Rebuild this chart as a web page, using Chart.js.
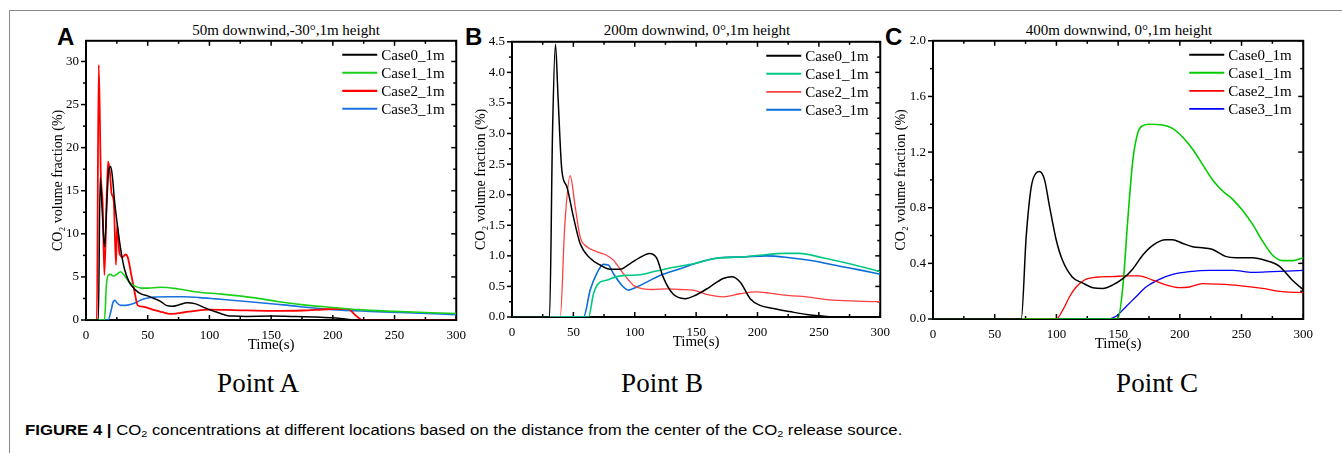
<!DOCTYPE html>
<html>
<head>
<meta charset="utf-8">
<script src="https://cdn.jsdelivr.net/npm/chart.js@4.4.1/dist/chart.umd.min.js"></script>
<style>
  html, body { margin: 0; padding: 0; background: #fff; }
  body { width: 1342px; height: 453px; position: relative; overflow: hidden;
         font-family: "Liberation Serif", "Times New Roman", serif; color: #000; }
  .frame { position: absolute; left: 9px; top: 10px; width: 1340px; height: 450px;
           border-left: 1.5px solid #8a8a8a; border-top: 1.5px solid #8a8a8a; }
  canvas { position: absolute; }
  .letter { position: absolute; font: bold 24px "Liberation Sans", Arial, sans-serif; line-height: 24px; }
  .ptitle { position: absolute; font-size: 15px; line-height: 18px; white-space: nowrap; transform: translateX(-50%); }
  .point { position: absolute; font-size: 27px; line-height: 30px; white-space: nowrap; transform: translateX(-50%); }
  .caption { position: absolute; left: 25px; top: 422px; font: 14px "Liberation Sans", Arial, sans-serif;
             line-height: 16px; white-space: nowrap; transform: scaleX(1.196); transform-origin: 0 0; }
  .caption sub { font-size: 9px; vertical-align: -2px; line-height: 0; }
</style>
</head>
<body>
<div class="frame"></div>

<div class="letter" style="left:57px;top:25px">A</div>
<div class="letter" style="left:465px;top:25px">B</div>
<div class="letter" style="left:885px;top:25px">C</div>

<div class="ptitle" style="left:286px;top:21px">50m downwind,-30°,1m height</div>
<div class="ptitle" style="left:697px;top:21px">200m downwind, 0°,1m height</div>
<div class="ptitle" style="left:1119px;top:21px">400m downwind, 0°,1m height</div>

<canvas id="chartA" width="424" height="328" style="left:50px;top:26px"></canvas>
<canvas id="chartB" width="425" height="324" style="left:473px;top:27px"></canvas>
<canvas id="chartC" width="428" height="327" style="left:893px;top:26px"></canvas>

<div class="point" style="left:258px;top:368px">Point A</div>
<div class="point" style="left:662px;top:368px">Point B</div>
<div class="point" style="left:1157px;top:368px">Point C</div>

<div class="caption"><b>FIGURE 4 |</b> CO<sub>2</sub> concentrations at different locations based on the distance from the center of the CO<sub>2</sub> release source.</div>

<script>
// ---- Point A (50m downwind) ----
const aCase0T = [0, 10, 11.5, 13, 15, 17, 18.5, 20, 21.5, 23, 25, 28, 31, 35, 40, 45, 50, 55, 60, 65, 70, 75, 82, 88, 95, 100, 105, 110, 115, 120, 130, 150, 170, 190, 200, 210, 220, 300];
const aCase0V = [0, 0, 16.5, 13, 8.5, 14, 17.5, 17.8, 16.5, 14, 11.5, 8.3, 6.0, 4.4, 3.5, 3.0, 2.8, 2.5, 2.2, 1.7, 1.6, 1.75, 2.0, 1.9, 1.5, 1.2, 0.95, 0.7, 0.5, 0.45, 0.42, 0.45, 0.4, 0.32, 0.25, 0.12, 0, 0];
const aCase1T = [0, 15, 16.5, 18, 20, 22, 25, 28, 31, 35, 40, 45, 50, 60, 75, 90, 110, 135, 155, 180, 200, 220, 250, 280, 300];
const aCase1V = [0, 0, 4.0, 5.2, 5.3, 5.1, 5.3, 5.6, 5.2, 4.4, 3.9, 3.7, 3.7, 3.8, 3.6, 3.25, 3.0, 2.6, 2.15, 1.7, 1.45, 1.2, 1.0, 0.85, 0.75];
const aCase2T = [0, 8.8, 10.3, 12, 13.5, 14.9, 17.8, 19.4, 20.7, 22.5, 24.3, 25.2, 26.2, 27, 29.7, 31.9, 33.8, 36.5, 39.2, 41.9, 46, 54, 62, 70, 80, 90, 100, 120, 150, 175, 195, 210, 213, 218, 224, 300];
const aCase2V = [0, 0, 29.6, 17, 13.5, 5.2, 18.4, 17.1, 14.7, 13.8, 6.4, 11.0, 9.7, 7.8, 7.3, 7.6, 7.3, 5.4, 3.4, 1.7, 1.55, 1.2, 0.9, 0.7, 0.9, 1.1, 1.2, 1.15, 1.05, 1.1, 1.25, 1.3, 1.25, 0.6, 0, 0];
const aCase3T = [0, 18, 20, 22, 23.5, 25, 28, 32, 36, 40, 45, 50, 55, 67, 80, 92, 105, 130, 160, 200, 230, 260, 300];
const aCase3V = [0, 0, 0.9, 2.1, 2.3, 2.0, 1.7, 1.7, 1.8, 2.0, 2.35, 2.55, 2.65, 2.7, 2.7, 2.6, 2.45, 2.15, 1.75, 1.2, 1.0, 0.85, 0.62];

// ---- Point B (200m downwind) ----
const bCase0T = [0, 30.6, 33, 35.4, 37.5, 40.6, 44.7, 50, 55.5, 63.7, 71.8, 80, 88, 96, 104, 112, 118, 123, 131, 141, 150, 161, 172, 179, 186, 194, 202, 213, 226, 240, 251, 261.5, 300];
const bCase0V = [0, 0, 3.0, 4.46, 3.6, 2.4, 2.13, 1.64, 1.2, 0.96, 0.85, 0.78, 0.78, 0.87, 0.97, 1.04, 0.96, 0.66, 0.38, 0.30, 0.36, 0.49, 0.63, 0.66, 0.57, 0.30, 0.19, 0.14, 0.09, 0.04, 0.02, 0, 0];
const bCase1T = [0, 62.3, 66.4, 70.5, 77, 85.4, 92, 104, 115, 131, 147.7, 166.7, 186, 202, 221, 234, 253, 275, 300];
const bCase1V = [0, 0, 0.38, 0.55, 0.6, 0.66, 0.68, 0.69, 0.74, 0.81, 0.87, 0.96, 0.98, 1.01, 1.04, 1.04, 0.97, 0.87, 0.74];
const bCase2T = [0, 39.3, 43, 47.4, 51.5, 55.5, 61, 69, 77, 82.6, 90.7, 98.9, 107, 115, 126, 137, 147.7, 158.5, 172, 185.6, 199, 210, 226, 240, 258.8, 280.5, 300];
const bCase2V = [0, 0, 1.5, 2.31, 1.8, 1.31, 1.15, 1.07, 1.01, 0.93, 0.71, 0.52, 0.46, 0.45, 0.46, 0.45, 0.44, 0.37, 0.33, 0.38, 0.41, 0.39, 0.35, 0.33, 0.28, 0.26, 0.25];
const bCase3T = [0, 58.3, 63.7, 69, 74.5, 78.5, 82.6, 89.4, 94.8, 101.6, 109.7, 120.5, 137, 153, 169, 186, 207, 226, 245, 267, 283, 300];
const bCase3V = [0, 0, 0.44, 0.71, 0.86, 0.85, 0.71, 0.52, 0.44, 0.49, 0.57, 0.68, 0.79, 0.9, 0.97, 0.98, 1.0, 0.97, 0.92, 0.83, 0.77, 0.70];

// ---- Point C (400m downwind) ----
const cCase0T = [0, 71.5, 75.5, 79.6, 83.6, 86.3, 90.4, 94.4, 99.8, 105, 113, 121, 129.5, 137.6, 145.7, 153.8, 161.9, 170, 178, 188.8, 194, 202, 210.4, 219.8, 226.6, 237, 245.5, 259, 269.7, 280.5, 291, 300];
const cCase0V = [0, 0, 0.59, 0.95, 1.05, 1.06, 1.0, 0.81, 0.57, 0.42, 0.30, 0.26, 0.225, 0.22, 0.245, 0.29, 0.36, 0.46, 0.53, 0.57, 0.57, 0.545, 0.52, 0.51, 0.50, 0.45, 0.44, 0.44, 0.42, 0.38, 0.28, 0.21];
const cCase1T = [0, 149.7, 153.8, 157.8, 161.9, 166, 170, 175.3, 186, 194, 202, 210.4, 218.5, 226.6, 234.7, 242.8, 250.9, 259, 267, 275, 283, 291, 300];
const cCase1V = [0, 0, 0.23, 0.71, 1.14, 1.34, 1.39, 1.40, 1.395, 1.37, 1.31, 1.22, 1.11, 1.0, 0.92, 0.86, 0.78, 0.68, 0.56, 0.46, 0.42, 0.42, 0.44];
const cCase2T = [0, 99.8, 105.2, 110.6, 116, 122.7, 132, 145.7, 156.5, 167, 178, 188.8, 199.6, 207.7, 218.5, 232, 248, 267, 283, 300];
const cCase2V = [0, 0, 0.065, 0.16, 0.23, 0.28, 0.30, 0.305, 0.31, 0.31, 0.28, 0.245, 0.225, 0.23, 0.255, 0.25, 0.24, 0.22, 0.197, 0.19];
const cCase3T = [0, 140.3, 148.4, 156.5, 164.5, 172.6, 183.4, 194.2, 207.7, 224, 242.8, 259, 275, 300];
const cCase3V = [0, 0, 0.02, 0.09, 0.16, 0.23, 0.285, 0.32, 0.34, 0.35, 0.35, 0.335, 0.34, 0.35];

const caseLabels = ["Case0_1m", "Case1_1m", "Case2_1m", "Case3_1m"];
const yTitle = "CO\u2082 volume fraction (%)";
const SERIF = '"Liberation Serif", "Times New Roman", serif';

Chart.defaults.font.family = SERIF;
Chart.defaults.color = '#000';

// box ticks: inward on bottom/top/right, outward on left, minor ticks between majors
const frameTicks = {
  id: 'frameTicks',
  beforeDatasetsDraw(chart, args, opts) {
    const { ctx, chartArea: a, scales: { x, y } } = chart;
    ctx.save();
    ctx.strokeStyle = '#000';
    ctx.lineWidth = 1.5;
    const seg = (x1, y1, x2, y2) => { ctx.beginPath(); ctx.moveTo(x1, y1); ctx.lineTo(x2, y2); ctx.stroke(); };
    for (let i = 0; i * opts.xMinor <= x.max + 1e-9; i++) {
      const px = x.getPixelForValue(i * opts.xMinor);
      const len = i % 2 === 0 ? 5 : 3;
      seg(px, a.bottom, px, a.bottom - len);
      seg(px, a.top, px, a.top + len);
    }
    for (let i = 0; i * opts.yMinor <= y.max + 1e-9; i++) {
      const py = y.getPixelForValue(i * opts.yMinor);
      const len = i % 2 === 0 ? 5 : 3;
      seg(a.left, py, a.left - len, py);
      seg(a.right, py, a.right - len, py);
    }
    ctx.lineWidth = 2;
    ctx.strokeRect(a.left, a.top, a.right - a.left, a.bottom - a.top);
    ctx.restore();
  }
};

const insideLegend = {
  id: 'insideLegend',
  afterDraw(chart) {
    const { ctx, chartArea: a } = chart;
    ctx.save();
    ctx.font = '15px ' + SERIF;
    ctx.textBaseline = 'middle';
    chart.data.datasets.forEach((ds, i) => {
      const yy = a.top + 14 + i * 18;
      const x0 = a.right - 114;
      ctx.strokeStyle = ds.borderColor;
      ctx.lineWidth = ds.borderWidth + 0.4;
      ctx.beginPath(); ctx.moveTo(x0, yy); ctx.lineTo(x0 + 35, yy); ctx.stroke();
      ctx.fillStyle = '#000';
      ctx.fillText(ds.label, x0 + 39, yy + 1);
    });
    ctx.restore();
  }
};

function makeChart(id, series, colors, widths, yMax, yStep, decimals, yWidth) {
  const datasets = series.map((s, i) => ({
    label: caseLabels[i],
    data: s[0].map((t, k) => ({ x: t, y: s[1][k] })),
    borderColor: colors[i],
    borderWidth: widths[i],
    pointRadius: 0,
    fill: false,
    cubicInterpolationMode: 'monotone'
  }));
  return new Chart(document.getElementById(id), {
    type: 'line',
    data: { datasets },
    options: {
      responsive: false,
      animation: false,
      devicePixelRatio: 1,
      layout: { padding: { top: 10, right: 14, left: 0, bottom: 0 } },
      plugins: {
        legend: { display: false },
        tooltip: { enabled: false },
        frameTicks: { xMinor: 25, yMinor: yStep / 2 }
      },
      scales: {
        x: {
          type: 'linear', min: 0, max: 300,
          grid: { display: false, drawTicks: false }, border: { display: false },
          ticks: { stepSize: 50, padding: 8, maxRotation: 0, color: '#000', font: { family: SERIF, size: 13 } },
          title: { display: true, text: 'Time(s)', color: '#000', font: { family: SERIF, size: 15 }, padding: { top: 0, bottom: 0 } },
          afterFit: (s) => { s.height = 34; }
        },
        y: {
          type: 'linear', min: 0, max: yMax,
          grid: { display: false, drawTicks: false }, border: { display: false },
          ticks: { stepSize: yStep, padding: 7, color: '#000', font: { family: SERIF, size: 13 },
                   callback: (v) => Number(v).toFixed(decimals) },
          afterBuildTicks: (s) => {
            s.ticks = s.ticks.filter(t => Math.abs(t.value / yStep - Math.round(t.value / yStep)) < 1e-6);
          },
          title: { display: true, text: yTitle, color: '#000', font: { family: SERIF, size: 14 }, padding: { top: 0, bottom: 0 } },
          afterFit: (s) => { s.width = yWidth; }
        }
      }
    },
    plugins: [frameTicks, insideLegend]
  });
}

makeChart('chartA',
  [[aCase0T, aCase0V], [aCase1T, aCase1V], [aCase2T, aCase2V], [aCase3T, aCase3V]],
  ['#000000', '#18d018', '#ff0000', '#1a72e0'], [1.5, 1.6, 1.8, 1.6], 32.4, 5, 0, 36);
makeChart('chartB',
  [[bCase0T, bCase0V], [bCase1T, bCase1V], [bCase2T, bCase2V], [bCase3T, bCase3V]],
  ['#000000', '#00c882', '#ff4040', '#0a6ed8'], [1.5, 1.6, 1.3, 1.6], 4.5, 0.5, 1, 39);
makeChart('chartC',
  [[cCase0T, cCase0V], [cCase1T, cCase1V], [cCase2T, cCase2V], [cCase3T, cCase3V]],
  ['#000000', '#00cc00', '#ff0000', '#0000ff'], [1.5, 1.6, 1.3, 1.3], 2.0, 0.4, 1, 40);
</script>
</body>
</html>
